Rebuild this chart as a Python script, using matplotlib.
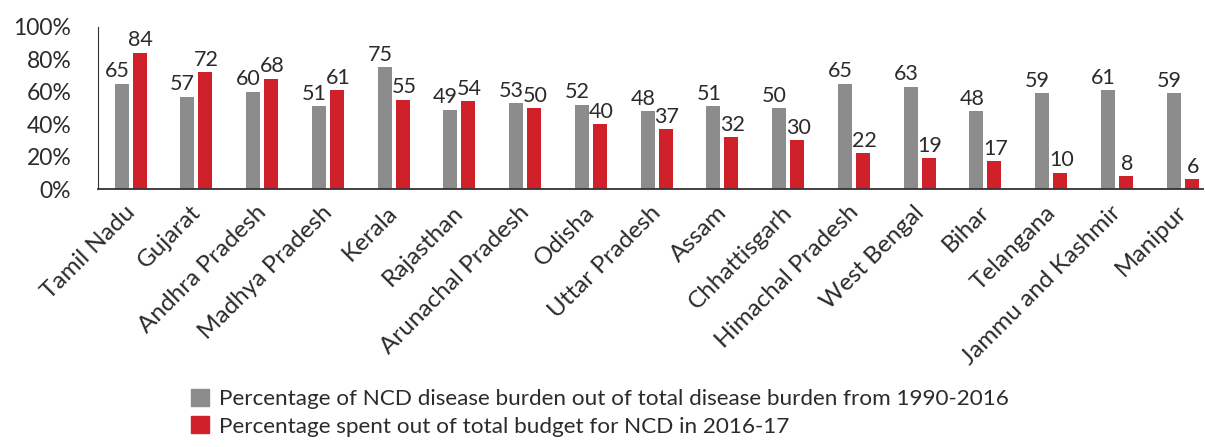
import numpy as np
import matplotlib
matplotlib.use("Agg")
import matplotlib.pyplot as plt
from matplotlib.patches import Patch

states = ["Tamil Nadu", "Gujarat", "Andhra Pradesh", "Madhya Pradesh", "Kerala",
          "Rajasthan", "Arunachal Pradesh", "Odisha", "Uttar Pradesh", "Assam",
          "Chhattisgarh", "Himachal Pradesh", "West Bengal", "Bihar", "Telangana",
          "Jammu and Kashmir", "Manipur"]
burden = [65, 57, 60, 51, 75, 49, 53, 52, 48, 51, 50, 65, 63, 48, 59, 61, 59]
spent = [84, 72, 68, 61, 55, 54, 50, 40, 37, 32, 30, 22, 19, 17, 10, 8, 6]
yticks = [0, 20, 40, 60, 80, 100]

grey = "#8c8c8c"
red = "#d0202a"
txt = "#2b2b2b"

plt.rcParams['font.family'] = ['Lato', 'DejaVu Sans']

fig = plt.figure(figsize=(12.05, 4.47), dpi=100)
ax = fig.add_axes([0.081, 0.577, 0.917, 0.363])

x = np.arange(len(states))
w = 0.213
off = 0.137
b1 = ax.bar(x - off, burden, w, color=grey)
b2 = ax.bar(x + off, spent, w, color=red)

for rect, v in zip(b1, burden):
    ax.text(rect.get_x() + rect.get_width() / 2 - 0.07, v + 1.5, str(v),
            ha='center', va='bottom', fontsize=15.5, color=txt)
for rect, v in zip(b2, spent):
    ax.text(rect.get_x() + rect.get_width() / 2 + 0.02, v + 1.5, str(v),
            ha='center', va='bottom', fontsize=15.5, color=txt)

ax.set_ylim(0, 100)
ax.set_xlim(-0.502, 16.304)
ax.set_yticks(yticks)
ax.set_yticklabels([f"{t}%" for t in yticks], fontsize=16.5, color=txt)
ax.set_xticks(x - 0.1)
ax.set_xticklabels(states, rotation=45, ha='right', rotation_mode='anchor',
                   fontsize=17.5, color=txt)
ax.tick_params(length=0, pad=9)
ax.tick_params(axis='y', pad=19)
for s in ['top', 'right']:
    ax.spines[s].set_visible(False)
ax.spines['left'].set_color('#333333')
ax.spines['bottom'].set_color('#333333')
ax.spines['bottom'].set_linewidth(1.3)

handles = [Patch(color=grey), Patch(color=red)]
labels = ["Percentage of NCD disease burden out of total disease burden from 1990-2016",
          "Percentage spent out of total budget for NCD in 2016-17"]
fig.legend(handles, labels, loc='lower left', bbox_to_anchor=(0.142, -0.022),
           frameon=False, fontsize=16.2, handlelength=0.8, handleheight=0.8,
           handletextpad=0.45, labelspacing=0.3, labelcolor=txt)

fig.savefig("out.png", dpi=100)
